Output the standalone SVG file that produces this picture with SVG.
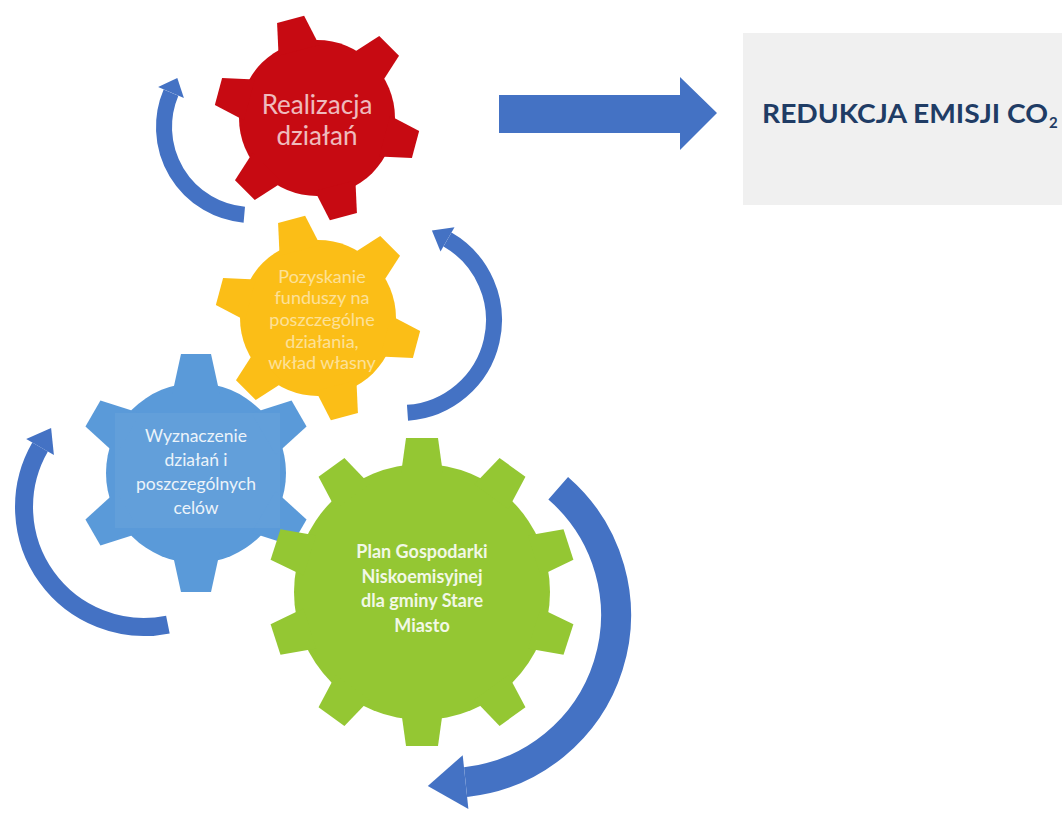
<svg xmlns="http://www.w3.org/2000/svg" xmlns:xlink="http://www.w3.org/1999/xlink" width="1062" height="820" viewBox="0 0 1062 820">
  <defs>
    <style>
      .red { fill: #c70a12; }
      .yellow { fill: #fbbe17; }
      .blue { fill: #5a9ad9; }
      .green { fill: #94c733; }
      .arc { fill: none; stroke: #4472c4; stroke-linecap: butt; }
      .head { fill: #4472c4; }
      .gtext { font-family: Lato, "Open Sans", sans-serif; text-anchor: middle; fill: #ffffff; }
      .title { font-family: Lato, "Open Sans", sans-serif; font-weight: bold; fill: #1f3c65; }
    </style>
    <path id="toothS" d="M -21 -70 L -14 -102 L 14 -102 L 21 -70 Z"/>
    <path id="toothB" d="M -24 -78 L -15 -119 L 15 -119 L 24 -78 Z"/>
    <path id="toothG" d="M -21 -118 L -16 -154 L 16 -154 L 21 -118 Z"/>
  </defs>

  <rect x="0" y="0" width="1062" height="820" fill="#ffffff"/>

  <g id="node-wyznaczenie">
    <g class="blue" transform="translate(196 473)">
      <circle r="90"/>
      <use xlink:href="#toothB" transform="rotate(0)"/>
      <use xlink:href="#toothB" transform="rotate(60)"/>
      <use xlink:href="#toothB" transform="rotate(120)"/>
      <use xlink:href="#toothB" transform="rotate(180)"/>
      <use xlink:href="#toothB" transform="rotate(240)"/>
      <use xlink:href="#toothB" transform="rotate(300)"/>
    </g>
    <rect x="115" y="413" width="165" height="115" fill="#ffffff" opacity="0.05"/>
    <g class="gtext" font-size="17.5" opacity="0.88">
      <text x="196" y="442">Wyznaczenie</text>
      <text x="196" y="466">działań i</text>
      <text x="196" y="490">poszczególnych</text>
      <text x="196" y="514">celów</text>
    </g>
  </g>

  <g id="node-pozyskanie">
    <g class="yellow" transform="translate(318 318)">
      <circle r="78"/>
      <use xlink:href="#toothS" transform="rotate(-15)"/>
      <use xlink:href="#toothS" transform="rotate(45)"/>
      <use xlink:href="#toothS" transform="rotate(105)"/>
      <use xlink:href="#toothS" transform="rotate(165)"/>
      <use xlink:href="#toothS" transform="rotate(225)"/>
      <use xlink:href="#toothS" transform="rotate(285)"/>
    </g>
    <g class="gtext" font-size="18" opacity="0.55">
      <text x="322" y="283">Pozyskanie</text>
      <text x="322" y="304">funduszy na</text>
      <text x="322" y="326">poszczególne</text>
      <text x="322" y="348">działania,</text>
      <text x="322" y="369">wkład własny</text>
    </g>
  </g>

  <g id="node-realizacja">
    <g class="red" transform="translate(317 118)">
      <circle r="78"/>
      <use xlink:href="#toothS" transform="rotate(-15)"/>
      <use xlink:href="#toothS" transform="rotate(45)"/>
      <use xlink:href="#toothS" transform="rotate(105)"/>
      <use xlink:href="#toothS" transform="rotate(165)"/>
      <use xlink:href="#toothS" transform="rotate(225)"/>
      <use xlink:href="#toothS" transform="rotate(285)"/>
    </g>
    <g class="gtext" font-size="26" opacity="0.72">
      <text x="317" y="114">Realizacja</text>
      <text x="317" y="145">działań</text>
    </g>
  </g>

  <g id="node-plan">
    <g class="green" transform="translate(422 592)">
      <circle r="128"/>
      <use xlink:href="#toothG" transform="rotate(0)"/>
      <use xlink:href="#toothG" transform="rotate(36)"/>
      <use xlink:href="#toothG" transform="rotate(72)"/>
      <use xlink:href="#toothG" transform="rotate(108)"/>
      <use xlink:href="#toothG" transform="rotate(144)"/>
      <use xlink:href="#toothG" transform="rotate(180)"/>
      <use xlink:href="#toothG" transform="rotate(216)"/>
      <use xlink:href="#toothG" transform="rotate(252)"/>
      <use xlink:href="#toothG" transform="rotate(288)"/>
      <use xlink:href="#toothG" transform="rotate(324)"/>
    </g>
    <g class="gtext" font-size="18" font-weight="bold" opacity="0.88">
      <text x="422" y="558">Plan Gospodarki</text>
      <text x="422" y="582.5">Niskoemisyjnej</text>
      <text x="422" y="607">dla gminy Stare</text>
      <text x="422" y="631.5">Miasto</text>
    </g>
  </g>

  <g id="node-redukcja">
    <rect x="743" y="33" width="319" height="172" fill="#f0f0f0"/>
    <text class="title" x="762" y="123" font-size="26" textLength="286" lengthAdjust="spacingAndGlyphs">REDUKCJA EMISJI CO</text>
    <text class="title" x="1049" y="128" font-size="15">2</text>
  </g>

  <g id="connectors">
    <polygon class="head" points="499,95 680,95 680,77 717,113 680,150 680,133 499,133"/>
    <path class="arc" stroke-width="16" d="M 244.3 214.7 A 88 88 0 0 1 171 92.6"/>
    <polygon class="head" points="183.9,98.1 158.1,87.1 177.3,77.9"/>
    <path class="arc" stroke-width="16" d="M 407.5 412.8 A 93 93 0 0 0 447.5 239.5"/>
    <polygon class="head" points="440.5,251.6 454.5,227.3 431.9,230.5"/>
    <path class="arc" stroke-width="18" d="M 167.9 624.6 A 120 120 0 0 1 40.1 447"/>
    <polygon class="head" points="53.9,455 26.2,439 51.1,428"/>
    <path class="arc" stroke-width="30" d="M 558.2 488.2 A 168 168 0 0 1 465.6 782.1"/>
    <polygon class="head" points="462.7,755.2 468.4,808.9 427.8,786.1"/>
  </g>
</svg>
